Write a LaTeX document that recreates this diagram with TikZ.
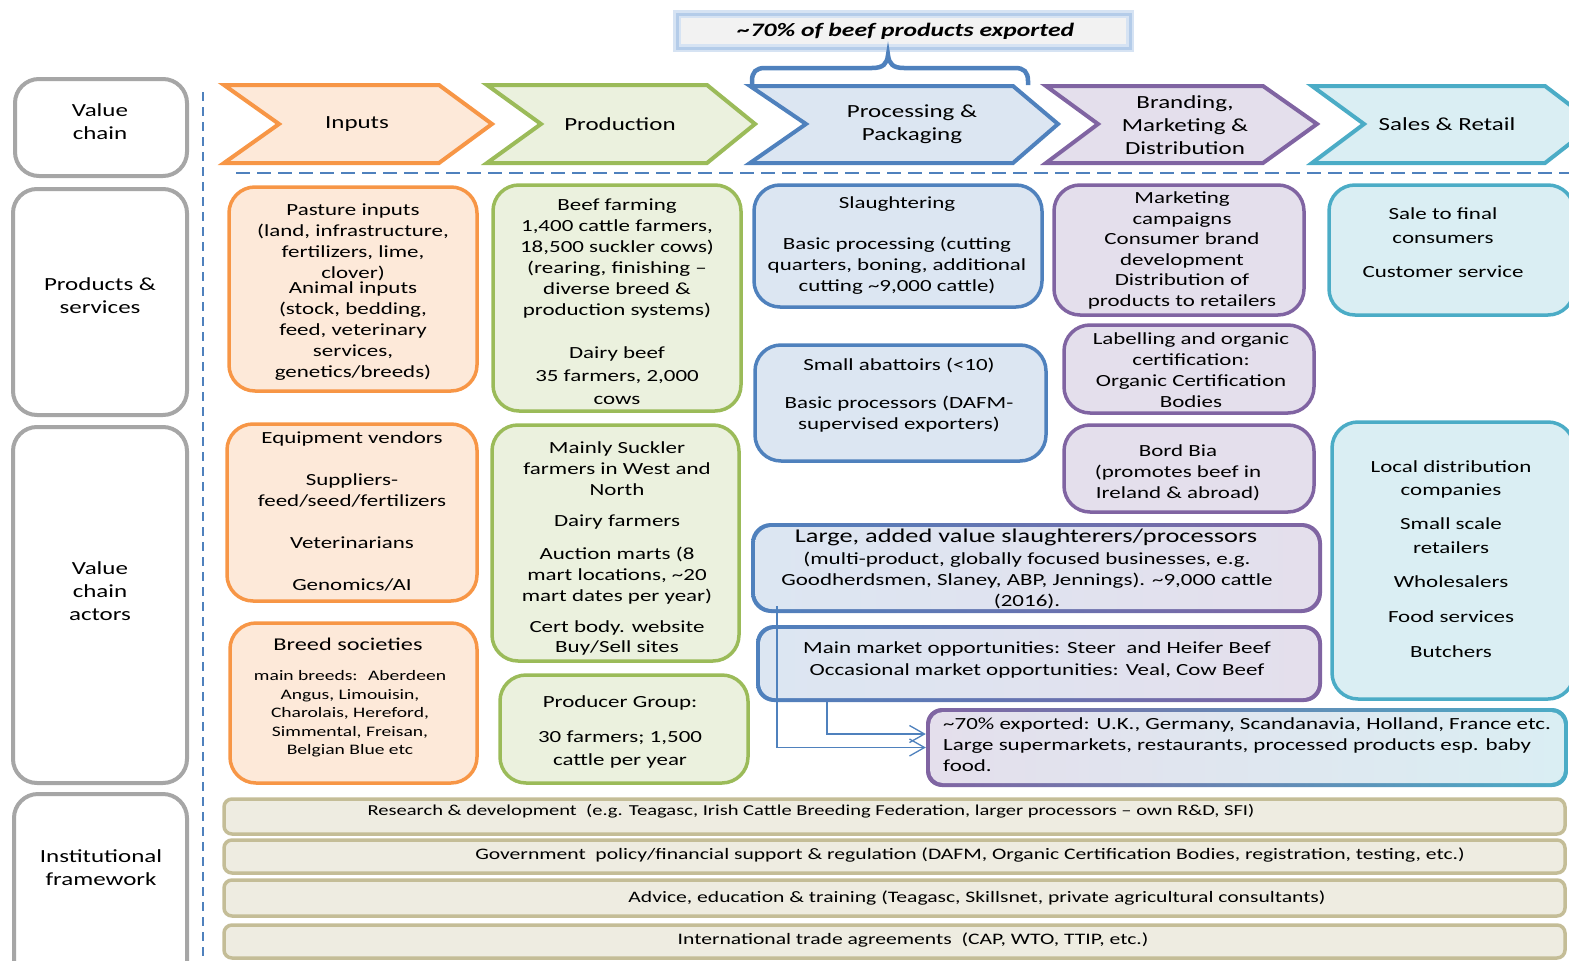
\documentclass[tikz,border=0pt]{standalone}
\usepackage{fontspec}
\setmainfont{Carlito}[FakeStretch=1.35]
\usepackage{tikz}
\usepackage{xcolor}
\usetikzlibrary{arrows.meta}

\definecolor{naranja}{HTML}{F79646}
\definecolor{naranjaclaro}{HTML}{FDE9D9}
\definecolor{verde}{HTML}{9BBB59}
\definecolor{verdeclaro}{HTML}{EBF1DE}
\definecolor{azul}{HTML}{4F81BD}
\definecolor{azulclaro}{HTML}{DCE6F2}
\definecolor{morado}{HTML}{8064A2}
\definecolor{moradoclaro}{HTML}{E4DFEC}
\definecolor{turquesa}{HTML}{4BACC6}
\definecolor{turquesaclaro}{HTML}{DAEEF3}
\definecolor{gris}{HTML}{A6A6A6}
\definecolor{grisclaro}{HTML}{F2F2F2}
\definecolor{tostado}{HTML}{C4BD97}
\definecolor{tostadoclaro}{HTML}{EEECE1}
\definecolor{brillo}{HTML}{B4CCE9}

\tikzset{
  etapa/.style={line width=4pt},
  caja/.style={line width=3.5pt, rounded corners=26pt},
  rotulo/.style={line width=4pt, rounded corners=24pt, draw=gris, fill=white},
  barra/.style={line width=3.5pt, rounded corners=8pt, draw=tostado, fill=tostadoclaro},
  texto/.style={align=center, inner sep=0pt, font=\fontsize{17}{21}\selectfont},
  titulo/.style={align=center, inner sep=0pt, font=\fontsize{18.5}{23}\selectfont},
  conector/.style={draw=azul, line width=1.3pt, -{Straight Barb[length=15pt,width=17pt]}}
}

\begin{document}
\begin{tikzpicture}[x=1pt,y=-1pt]
        \useasboundingbox (0,0) rectangle (1569,961);
        \clip (0,0) rectangle (1569,961);

        % Recuadro superior con la cuota exportada
        \draw[draw=brillo!55, line width=8pt, fill=grisclaro] (677,14) rectangle (1130,48);
        \draw[draw=brillo, line width=3pt] (677,14) rectangle (1130,48);
        \node[inner sep=0pt, font=\fontsize{19}{23}\selectfont\bfseries\itshape] (cuota) at (906,31) {\textasciitilde 70\% of beef products exported};

        % Columna de rotulos a la izquierda
        \draw[rotulo] (15,79) rectangle (187,176);
        \draw[rotulo] (13,189) rectangle (187,415);
        \draw[rotulo] (13,427) rectangle (187,783);
        \draw[rotulo] (14,794) rectangle (187,990);
        \node[titulo] (cadena) at (100,122) {Value\\chain};
        \node[titulo] (productos) at (100,295.5) {Products \&\\services};
        \node[titulo] (actores) at (100,591) {Value\\chain\\actors};
        \node[titulo] (marco) at (101,867.5) {Institutional\\framework};

        % Lineas discontinuas de separacion
        \draw[azul, line width=2.5pt, dash pattern=on 9pt off 6pt] (203,92) -- (203,961);
        \draw[azul, line width=2.5pt, dash pattern=on 14pt off 7pt] (236,173) -- (1569,173);

        % Etapas de la cadena (flechas de cabecera)
        \draw[etapa, draw=naranja, fill=naranjaclaro] (224,85) -- (439,85) -- (492,124) -- (439,163) -- (224,163) -- (279,124) -- cycle;
        \draw[etapa, draw=verde, fill=verdeclaro] (487,85) -- (707,85) -- (755,124) -- (707,163) -- (487,163) -- (541,124) -- cycle;
        \draw[etapa, draw=azul, fill=azulclaro] (750,86) -- (1013,86) -- (1058,124) -- (1013,163) -- (750,163) -- (806,124) -- cycle;
        \draw[etapa, draw=morado, fill=moradoclaro] (1046,86) -- (1263,86) -- (1317,124) -- (1263,163) -- (1046,163) -- (1098,124) -- cycle;
        \draw[etapa, draw=turquesa, fill=turquesaclaro] (1312,86) -- (1545,86) -- (1595,124) -- (1545,163) -- (1312,163) -- (1364,124) -- cycle;
        \node[titulo] (insumos) at (357,124) {Inputs};
        \node[titulo] (produccion) at (620,124) {Production};
        \node[titulo] (procesado) at (912,124) {Processing \&\\Packaging};
        \node[titulo] (marca) at (1185,125) {Branding,\\Marketing \&\\Distribution};
        \node[titulo] (venta) at (1447,124) {Sales \& Retail};

        % Llave sobre procesado
        \draw[azul, line width=4.5pt] (752,88) -- (752,81) .. controls (752,72) and (756,68) .. (765,68) -- (872,68) .. controls (883,68) and (887,64) .. (888,55) .. controls (889,64) and (893,68) .. (904,68) -- (1015,68) .. controls (1024,68) and (1028,72) .. (1028,81) -- (1028,85);

        % Productos y servicios
        \draw[caja, draw=naranja, fill=naranjaclaro] (229,187) rectangle (477,391);
        \draw[caja, draw=verde, fill=verdeclaro] (493,185) rectangle (741,411);
        \draw[caja, draw=azul, fill=azulclaro] (754,185) rectangle (1042,307);
        \draw[caja, draw=morado, fill=moradoclaro] (1054,185) rectangle (1304,315);
        \draw[caja, draw=turquesa, fill=turquesaclaro] (1329,185) rectangle (1574,315);
        \node[texto] (pastos) at (353,292) {Pasture inputs\\(land, infrastructure,\\fertilizers, lime,\\clover)\\[-6pt]Animal inputs\\(stock, bedding,\\feed, veterinary\\services,\\genetics/breeds)};
        \node[texto] (cria) at (617,302) {Beef farming\\1,400 cattle farmers,\\18,500 suckler cows)\\(rearing, finishing –\\diverse breed \&\\production systems)\\[22pt]Dairy beef\\[2pt]35 farmers, 2,000\\[2pt]cows};
        \node[texto] (sacrificio) at (897,245.5) {Slaughtering\\[20pt]Basic processing (cutting\\quarters, boning, additional\\cutting \textasciitilde 9,000 cattle)};
        \node[texto, font=\fontsize{17}{20.6}\selectfont] (campanas) at (1182,250.5) {Marketing\\campaigns\\Consumer brand\\development\\Distribution of\\products to retailers};
        \node[texto] (consumidor) at (1443,243) {Sale to final\\[3pt]consumers\\[13pt]Customer service};

        % Actores de la cadena
        \draw[caja, draw=naranja, fill=naranjaclaro] (227,424) rectangle (477,601);
        \draw[caja, draw=naranja, fill=naranjaclaro] (230,623) rectangle (477,783);
        \draw[caja, draw=verde, fill=verdeclaro] (492,425) rectangle (739,661);
        \draw[caja, draw=verde, fill=verdeclaro] (500,675) rectangle (748,783);
        \draw[caja, draw=azul, fill=azulclaro] (755,345) rectangle (1046,461);
        \draw[caja, draw=morado, fill=moradoclaro] (1064,325) rectangle (1314,413);
        \draw[caja, draw=morado, fill=moradoclaro] (1064,425) rectangle (1314,512);
        \draw[caja, draw=turquesa, fill=turquesaclaro] (1332,422) rectangle (1574,699);
        \node[texto] (proveedores) at (352,511) {Equipment vendors\\[21pt]Suppliers-\\feed/seed/fertilizers\\[21pt]Veterinarians\\[21pt]Genomics/AI};
        \node[texto, font=\fontsize{18}{22}\selectfont] (razas) at (348,644) {Breed societies};
        \node[texto, font=\fontsize{14.5}{18.5}\selectfont] (razaslista) at (350,714) {main breeds:~ Aberdeen\\Angus, Limouisin,\\Charolais, Hereford,\\Simmental, Freisan,\\Belgian Blue etc};
        \node[texto] (ganaderos) at (617,548) {Mainly Suckler\\farmers in West and\\North\\[10pt]Dairy farmers\\[12pt]Auction marts (8\\mart locations, \textasciitilde 20\\mart dates per year)\\[10pt]Cert body. website\\[-1pt]Buy/Sell sites};
        \node[texto] (grupo) at (620,732) {Producer Group:\\[14pt]30 farmers; 1,500\\[2pt]cattle per year};
        \node[texto] (mataderos) at (899,395.5) {Small abattoirs (<10)\\[17pt]Basic processors (DAFM-\\supervised exporters)};
        \node[texto] (etiquetado) at (1191,370) {Labelling and organic\\certification:\\Organic Certification\\Bodies};
        \node[texto] (bordbia) at (1178,472.5) {Bord Bia\\(promotes beef in\\Ireland \& abroad)};
        \node[texto] (distribucion) at (1451,559) {Local distribution\\[2pt]companies\\[13pt]Small scale\\[3pt]retailers\\[13pt]Wholesalers\\[14pt]Food services\\[14pt]Butchers};

        % Grandes procesadores y mercados (bordes en degradado)
        \shade[rounded corners=20pt, left color=azul, right color=morado] (751,523) rectangle (1322,613);
        \shade[rounded corners=17pt, left color=azulclaro, right color=moradoclaro] (755,527) rectangle (1318,609);
        \shade[rounded corners=18pt, left color=azul, right color=morado] (756,625) rectangle (1322,702);
        \shade[rounded corners=15pt, left color=azulclaro, right color=moradoclaro] (760,629) rectangle (1318,698);
        \node[minimum width=642pt, minimum height=79pt, rounded corners=16pt, inner sep=0pt, shade, left color=morado, right color=turquesa] (exportado) at (1247,747.5) {};
        \shade[rounded corners=13pt, left color=moradoclaro, right color=turquesaclaro] (930,712) rectangle (1564,783);
        \node[texto, font=\fontsize{19.5}{23}\selectfont] (grandes) at (1026,537) {Large, added value slaughterers/processors};
        \node[texto] (grandesdetalle) at (1027,580) {(multi-product, globally focused businesses, e.g.\\Goodherdsmen, Slaney, ABP, Jennings). \textasciitilde 9,000 cattle\\(2016).};
        \node[texto] (mercados) at (1037,660) {Main market opportunities: Steer~ and Heifer Beef\\[1pt]Occasional market opportunities: Veal, Cow Beef};
        \node[texto, anchor=west, align=left] (destinos) at (943,745) {\textasciitilde 70\% exported: U.K., Germany, Scandanavia, Holland, France etc.\\Large supermarkets, restaurants, processed products esp. baby\\food.};

        % Flechas hacia la exportacion
        \coordinate (salida1) at (777,606);
        \coordinate (salida2) at (827,702);
        \draw[conector] (salida1) |- (exportado.west);
        \draw[conector] (salida2) |- ([yshift=13.5pt]exportado.west);

        % Marco institucional
        \draw[barra] (224,799) rectangle (1565,834);
        \draw[barra] (224,840) rectangle (1565,873);
        \draw[barra] (224,880) rectangle (1565,916);
        \draw[barra] (224,925) rectangle (1565,958);
        \node[texto, font=\fontsize{15.2}{18}\selectfont] (investigacion) at (811,811) {Research \& development~ (e.g. Teagasc, Irish Cattle Breeding Federation, larger processors – own R\&D, SFI)};
        \node[texto, font=\fontsize{16}{20}\selectfont] (gobierno) at (970,855) {Government~ policy/financial support \& regulation (DAFM, Organic Certification Bodies, registration, testing, etc.)};
        \node[texto, font=\fontsize{16}{20}\selectfont] (formacion) at (977,898) {Advice, education \& training (Teagasc, Skillsnet, private agricultural consultants)};
        \node[texto, font=\fontsize{16}{20}\selectfont] (comercio) at (913,940) {International trade agreements~ (CAP, WTO, TTIP, etc.)};
    \end{tikzpicture}
\end{document}
